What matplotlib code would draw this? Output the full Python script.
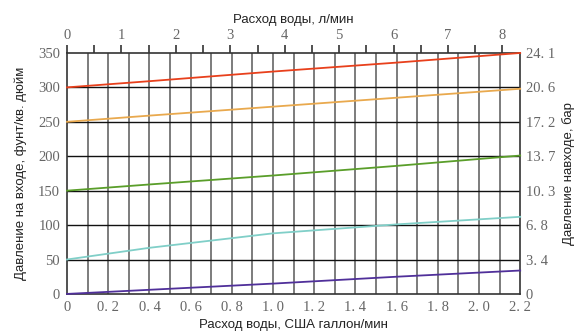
import matplotlib.pyplot as plt
import numpy as np

# flow (US gal/min) and inlet pressure (psi) for each curve
gal = [0.0, 0.4, 1.0, 1.6, 2.2]
red_psi = [300, 309, 323, 336, 350]
orange_psi = [250, 259, 272, 285, 298]
green_psi = [150, 159, 172, 186, 201]
cyan_psi = [50, 67, 88, 101, 112]
purple_psi = [0, 6, 15, 25, 34]

psi_ticks = [0, 50, 100, 150, 200, 250, 300, 350]
bar_labels = ["0", "3. 4", "6. 8", "10. 3", "13. 7", "17. 2", "20. 6", "24. 1"]
gal_ticks = [0, 0.2, 0.4, 0.6, 0.8, 1.0, 1.2, 1.4, 1.6, 1.8, 2.0, 2.2]
gal_labels = ["0", "0. 2", "0. 4", "0. 6", "0. 8", "1. 0", "1. 2", "1. 4", "1. 6", "1. 8", "2. 0", "2. 2"]
lpm_ticks = [0, 1, 2, 3, 4, 5, 6, 7, 8]

GAL_TO_L = 3.785
NUM_FONT = "Liberation Serif"
NUM_SIZE = 10.5
NUM_COLOR = "#666666"
LABEL_FONT = "Liberation Sans"
LABEL_SIZE = 9.5
LABEL_COLOR = "#222222"

fig = plt.figure(figsize=(5.78, 3.31), dpi=100)
ax = fig.add_axes([0.116, 0.112, 0.784, 0.728])

ax.set_xlim(0, 2.2)
ax.set_ylim(0, 350)

# grid: vertical every 0.1 gal, horizontal every 50 psi
for g in np.arange(0.1, 2.2, 0.1):
    ax.axvline(g, color="#666666", lw=1.2, zorder=1)
for p in psi_ticks[1:-1]:
    ax.axhline(p, color="#111111", lw=1.0, zorder=1)

curves = [
    (red_psi, "#E8401C"),
    (orange_psi, "#E9A94E"),
    (green_psi, "#5A9E2A"),
    (cyan_psi, "#80CFC8"),
    (purple_psi, "#50309A"),
]
for vals, col in curves:
    ax.plot(gal, vals, color=col, lw=1.3, zorder=3, clip_on=False)

for s in ax.spines.values():
    s.set_color("#333333")
    s.set_linewidth(1.2)

ax.set_xticks(gal_ticks)
ax.set_xticklabels(gal_labels)
ax.set_yticks(psi_ticks)
ax.tick_params(length=0, pad=5, labelsize=NUM_SIZE, labelcolor=NUM_COLOR,
               labelfontfamily=NUM_FONT)
ax.set_xlabel("Расход воды, США галлон/мин", fontsize=LABEL_SIZE, family=LABEL_FONT,
              color=LABEL_COLOR, labelpad=4)
ax.set_ylabel("Давление на входе, фунт/кв. дюйм", fontsize=LABEL_SIZE, family=LABEL_FONT,
              color=LABEL_COLOR, labelpad=8)

# right axis: bar
axr = ax.twinx()
axr.set_ylim(0, 350)
axr.set_yticks(psi_ticks)
axr.set_yticklabels(bar_labels)
axr.tick_params(length=0, pad=4, labelsize=NUM_SIZE, labelcolor=NUM_COLOR,
                labelfontfamily=NUM_FONT)
axr.set_ylabel("Давление навходе, бар", fontsize=LABEL_SIZE, family=LABEL_FONT,
               color=LABEL_COLOR, labelpad=5)
for s in axr.spines.values():
    s.set_visible(False)

# top axis: l/min
axt = ax.twiny()
axt.set_xlim(0, 2.2 * GAL_TO_L)
axt.set_xticks(lpm_ticks)
axt.set_xticks(np.arange(0.5, 8.5, 1.0), minor=True)
axt.tick_params(which="both", direction="out", length=6, width=1.2, color="#333333", pad=2,
                labelsize=NUM_SIZE, labelcolor=NUM_COLOR, labelfontfamily=NUM_FONT)
axt.set_xlabel("Расход воды, л/мин", fontsize=LABEL_SIZE, family=LABEL_FONT,
               color=LABEL_COLOR, labelpad=4)
for s in axt.spines.values():
    s.set_visible(False)

fig.savefig("out.png", dpi=100, facecolor="white")
